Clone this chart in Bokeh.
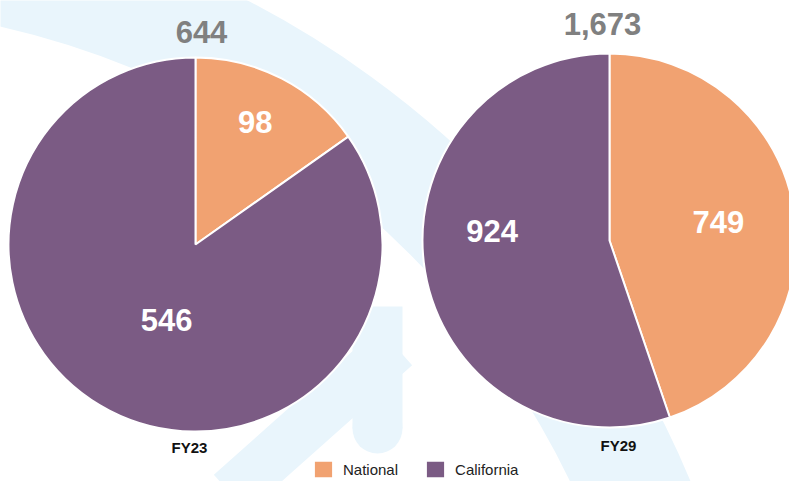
import math
import numpy as np
from bokeh.plotting import figure
from bokeh.models import Range1d, ColumnDataSource, Legend, LegendItem
from bokeh.core.properties import value
from bokeh.embed import file_html
from bokeh.resources import INLINE

# ---- data ----
years = ["FY23", "FY29"]
categories = ["National", "California"]
national = [98, 749]
california = [546, 924]
totals = ["644", "1,673"]

# ---- style / layout ----
colors = ["#F1A271", "#7B5B84"]
band_color = "#E9F5FC"
FONT = "Liberation Sans"
W, H = 789, 481
centers_x = [195, 609]
centers_y = [244, 240]          # measured from the top of the picture
R = 187
# label placement (angle nudge in degrees, fraction of radius) per pie, per category
lab_nudge = [[(-1.4, 0.73), (-6.4, 0.43)], [(0.0, 0.59), (14.1, 0.63)]]
total_dx = [6, -7]
total_dy = [-213, -217]
year_dx = [-6, 9]
year_dy = [203, 205]

p = figure(width=W, height=H, x_range=Range1d(0, W), y_range=Range1d(-H, 0),
           output_backend="svg", toolbar_location=None, min_border=0,
           x_axis_location=None, y_axis_location=None)
p.grid.visible = False
p.outline_line_color = None
p.background_fill_color = "white"

# ---- faint background watermark ----
p.arc(x=-187.5, y=-845, radius=895, start_angle=math.radians(8), end_angle=math.radians(100),
      line_width=110, line_color=band_color)
p.quad(left=352, right=402, top=-306, bottom=-428, fill_color=band_color, line_color=None)
p.scatter(x=[377], y=[-428], size=50, fill_color=band_color, line_color=None)
p.segment(x0=[395], y0=[-346], x1=[230], y1=[-493], line_width=50, line_color=band_color)

renderers = []
for i in range(len(years)):
    vals = np.array([national[i], california[i]], dtype=float)
    fr = np.concatenate([[0.0], np.cumsum(vals) / vals.sum()])
    start = math.pi / 2 - 2 * math.pi * fr[:-1]
    end = math.pi / 2 - 2 * math.pi * fr[1:]
    cx, cy = centers_x[i], -centers_y[i]
    src = ColumnDataSource(dict(x=[cx, cx], y=[cy, cy], start=start, end=end,
                                color=colors, label=categories))
    r = p.wedge(x="x", y="y", radius=R, start_angle="start", end_angle="end",
                direction="clock", fill_color="color", line_color="white",
                line_width=2, source=src)
    renderers.append(r)

    # value labels
    lx, ly, lt = [], [], []
    for k, v in enumerate(vals):
        mid = (start[k] + end[k]) / 2 + math.radians(-lab_nudge[i][k][0])
        rr = lab_nudge[i][k][1] * R
        lx.append(cx + rr * math.cos(mid))
        ly.append(cy + rr * math.sin(mid))
        lt.append(f"{int(v)}")
    p.text(x=lx, y=ly, text=lt, text_color="white", text_font=value(FONT),
           text_font_style="bold", text_font_size="31px", text_align="center",
           text_baseline="middle")

    # totals above pie
    p.text(x=[cx + total_dx[i]], y=[cy - total_dy[i]], text=[totals[i]],
           text_color="#808080", text_font=value(FONT), text_font_style="bold",
           text_font_size="31px", text_align="center", text_baseline="middle")
    # year below pie
    p.text(x=[cx + year_dx[i]], y=[cy - year_dy[i]], text=[years[i]],
           text_color="#111111", text_font=value(FONT), text_font_style="bold",
           text_font_size="15px", text_align="center", text_baseline="middle")

legend = Legend(items=[LegendItem(label=categories[0], renderers=[renderers[0]], index=0),
                       LegendItem(label=categories[1], renderers=[renderers[0]], index=1)],
                orientation="horizontal", location=(311, 1), padding=0, margin=0,
                spacing=25, glyph_width=24, glyph_height=22, label_height=22,
                label_standoff=8, label_text_font=FONT, label_text_font_size="15px",
                label_text_color="#222222", border_line_color=None,
                background_fill_alpha=0)
p.add_layout(legend, "center")

open("out.html", "w").write(file_html(p, INLINE))
